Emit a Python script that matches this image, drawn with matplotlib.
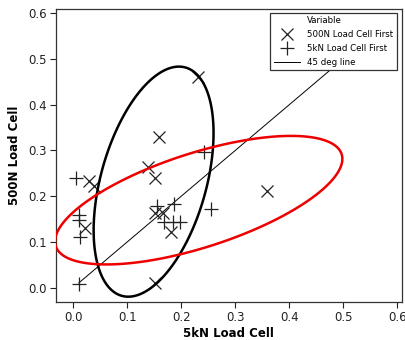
import numpy as np
import matplotlib
matplotlib.use("Agg")
import matplotlib.pyplot as plt
from matplotlib.lines import Line2D
from matplotlib.patches import Polygon

# 500N Load Cell First (x markers)
x_500 = [0.231, 0.159, 0.139, 0.151, 0.028, 0.038, 0.358, 0.021, 0.151, 0.166, 0.180, 0.151]
y_500 = [0.460, 0.330, 0.263, 0.240, 0.232, 0.221, 0.210, 0.131, 0.164, 0.163, 0.121, 0.009]

# 5kN Load Cell First (+ markers)
x_5k = [0.005, 0.011, 0.010, 0.012, 0.010, 0.155, 0.186, 0.168, 0.185, 0.198, 0.255, 0.242]
y_5k = [0.240, 0.158, 0.147, 0.110, 0.008, 0.179, 0.183, 0.143, 0.143, 0.143, 0.172, 0.297]

# 45 deg line
line_45 = [0.01, 0.5]

# ellipse annotations: center x, center y, sd x, sd y, covariance term
ell_black = (0.1485, 0.2315, 0.111, 0.2515, 0.0118)
ell_red = (0.232, 0.191, 0.266, 0.1405, 0.0240)

xticks = [0.0, 0.1, 0.2, 0.3, 0.4, 0.5, 0.6]
yticks = [0.0, 0.1, 0.2, 0.3, 0.4, 0.5, 0.6]

fig = plt.figure(figsize=(4.05, 3.40), dpi=100)
ax = fig.add_axes([0.138, 0.1126, 0.854, 0.861])

ax.plot(line_45, line_45, color='black', lw=0.7, zorder=2)
ax.plot(x_500, y_500, ls='none', marker='x', ms=9, mew=0.9, color='#222222', zorder=3)
ax.plot(x_5k, y_5k, ls='none', marker='+', ms=10, mew=0.9, color='#222222', zorder=3)

t = np.linspace(0, 2 * np.pi, 360, endpoint=False)
for (cx, cy, sx, sy, c), col in [(ell_black, 'black'), (ell_red, '#ee0000')]:
    b = c / sx
    d = np.sqrt(sy ** 2 - b ** 2)
    ex = cx + sx * np.cos(t)
    ey = cy + b * np.cos(t) + d * np.sin(t)
    poly = Polygon(np.column_stack([ex, ey]), closed=True, fill=False,
                   edgecolor=col, lw=1.8, zorder=4, joinstyle='round')
    ax.add_patch(poly)

ax.set_xlim(-0.0324, 0.608)
ax.set_ylim(-0.031, 0.609)
ax.set_xticks(xticks)
ax.set_yticks(yticks)
ax.set_xticklabels([f"{v:.1f}" for v in xticks])
ax.set_yticklabels([f"{v:.1f}" for v in yticks])
ax.tick_params(direction='out', length=4, width=0.8, labelsize=8.5, colors='#222222',
               top=False, right=False, pad=2.5)
for s in ax.spines.values():
    s.set_color('#333333')
    s.set_linewidth(0.9)

ax.set_xlabel('5kN Load Cell', fontsize=8.5, fontweight='bold', labelpad=2)
ax.set_ylabel('500N Load Cell', fontsize=8.5, fontweight='bold', labelpad=5)

handles = [Line2D([], [], ls='none'),
           Line2D([], [], ls='none', marker='x', ms=9, mew=0.9, color='#222222'),
           Line2D([], [], ls='none', marker='+', ms=10, mew=0.9, color='#222222'),
           Line2D([], [], color='black', lw=0.7)]
labels = ['Variable', '500N Load Cell First', '5kN Load Cell First', '45 deg line']
leg = ax.legend(handles, labels, loc='upper right', bbox_to_anchor=(0.985, 0.987),
                fontsize=6.2, frameon=True, fancybox=False, framealpha=1,
                edgecolor='#333333', handlelength=3.1, handletextpad=0.8,
                borderpad=0.38, labelspacing=0.58, borderaxespad=0)
leg.get_frame().set_linewidth(0.9)
leg.set_zorder(10)

fig.savefig('out.png', dpi=100)
